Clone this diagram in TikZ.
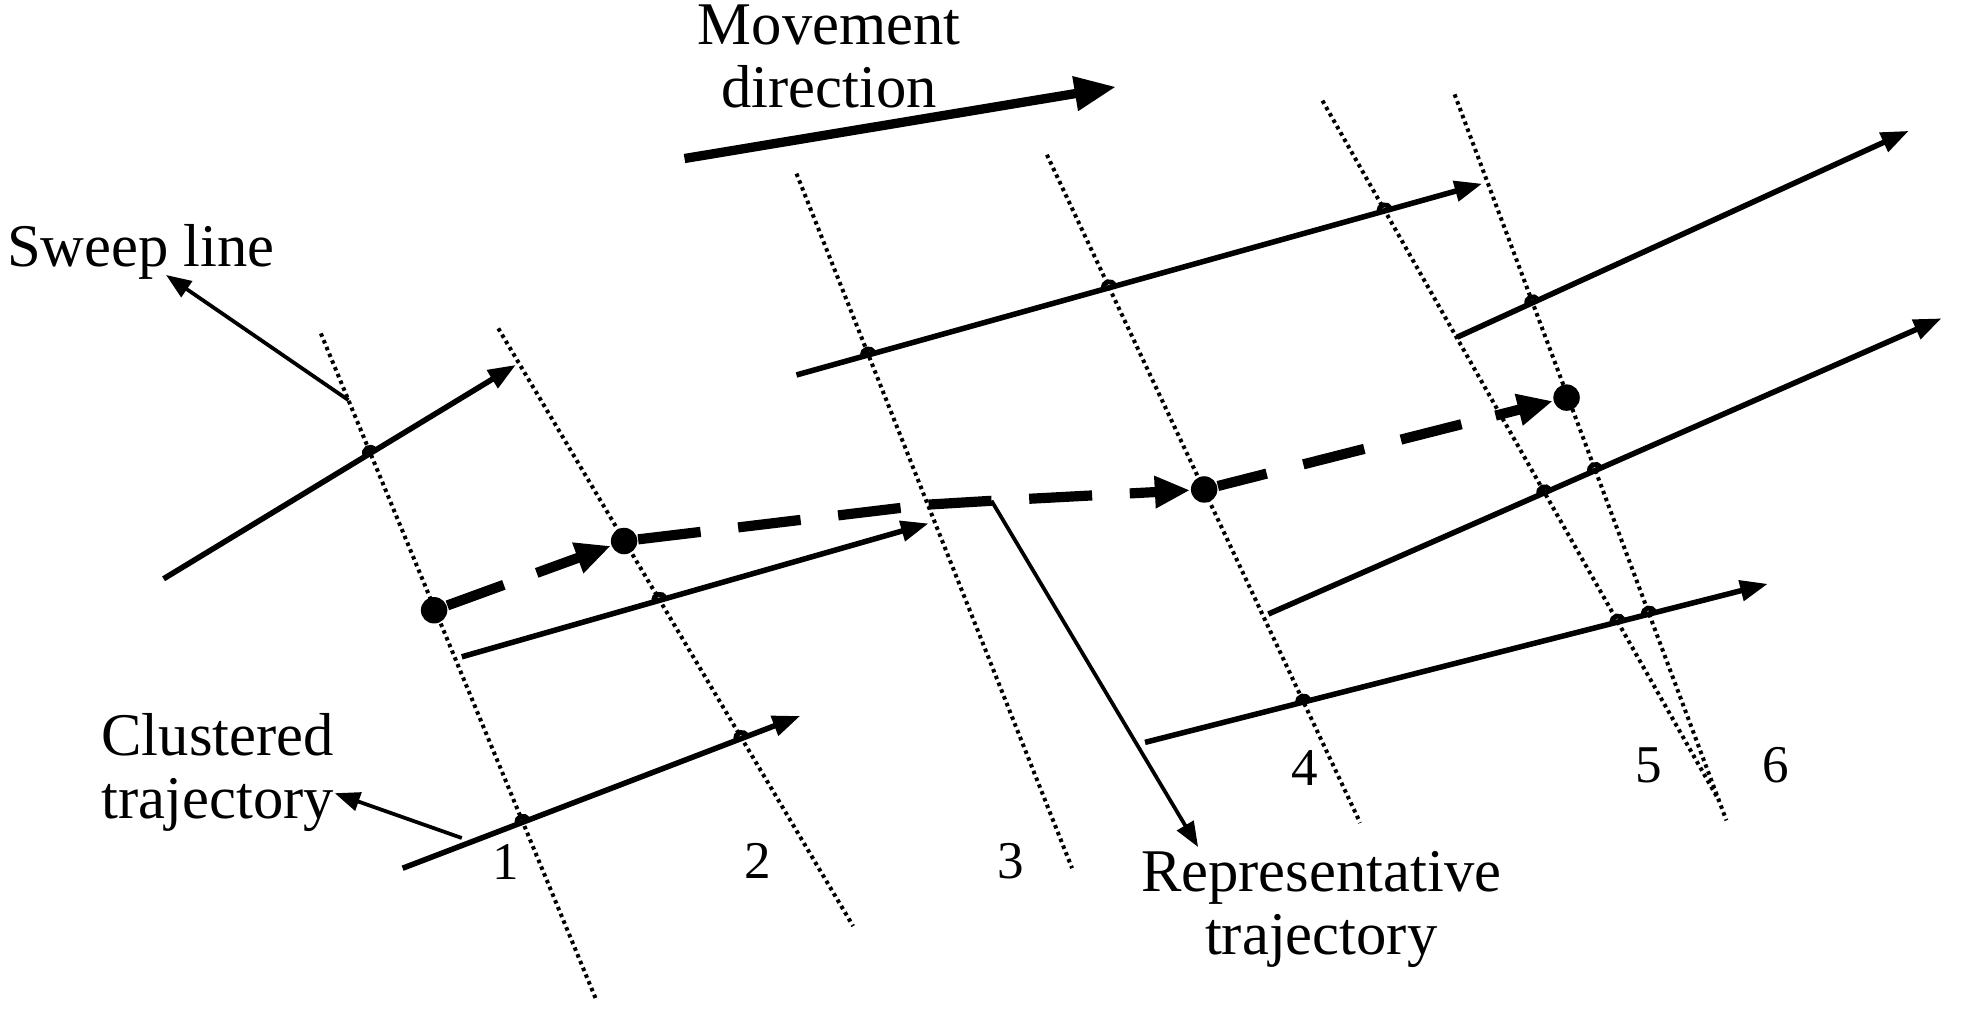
\documentclass[tikz,border=0pt]{standalone}
\usepackage{fontspec}
\setmainfont{Liberation Serif}
\usetikzlibrary{arrows.meta,calc,intersections}
\newcommand\hopat[3]{%
  \coordinate (ha) at ($(#1)!0.045cm!(#2)$);
  \coordinate (hb) at ($(#1)!0.045cm!(#3)$);
  \draw[hopline] (ha) .. controls ($(ha)!0.065cm!90:(hb)$) and ($(hb)!0.065cm!-90:(ha)$) .. (hb);}
\begin{document}
\begin{tikzpicture}[x=0.01cm,y=-0.01cm,
  sweepline/.style={line width=0.9pt, dash pattern=on 0.8pt off 0.85pt},
  trajline/.style={line width=1.25pt, -{Triangle[length=0.22cm,width=0.16cm]}},
  hopline/.style={line width=1.1pt},
  repdash/.style={line width=2.3pt, dash pattern=on 0.5cm off 0.3cm},
  repsolid/.style={line width=2.3pt},
  reparrow/.style={line width=2.3pt, -{Triangle[length=0.28cm,width=0.24cm]}},
  movearrow/.style={line width=2.1pt, -{Triangle[length=0.33cm,width=0.26cm]}},
  labarrow/.style={line width=0.85pt, -{Triangle[length=0.2cm,width=0.15cm]}},
  lbl/.style={font=\fontsize{13.7}{14.2}\selectfont, align=center, inner sep=0pt},
  numlbl/.style={font=\fontsize{12}{14}\selectfont, inner sep=0pt, anchor=base},
  repdot/.style={circle, fill, inner sep=0pt, minimum size=0.21cm}
]
\useasboundingbox (0,0) rectangle (1568,810);

% sweep lines
\coordinate (s1a) at (255,265); \coordinate (s1b) at (474,795);
\coordinate (s2a) at (396,261); \coordinate (s2b) at (678,736);
\coordinate (s3a) at (633,138); \coordinate (s3b) at (852,690);
\coordinate (s4a) at (832,123); \coordinate (s4b) at (1081,654);
\coordinate (s5a) at (1051,80); \coordinate (s5b) at (1366,636);
\coordinate (s6a) at (1156,75); \coordinate (s6b) at (1372,652);
\draw[sweepline, name path=s1] (s1a) -- (s1b);
\draw[sweepline, name path=s2] (s2a) -- (s2b);
\draw[sweepline, name path=s3] (s3a) -- (s3b);
\draw[sweepline, name path=s4] (s4a) -- (s4b);
\draw[sweepline, name path=s5] (s5a) -- (s5b);
\draw[sweepline, name path=s6] (s6a) -- (s6b);

% clustered trajectories
\coordinate (A0) at (130,460);  \coordinate (A1) at (410,290);
\coordinate (B0) at (367,522);  \coordinate (B1) at (738,416);
\coordinate (C0) at (320,690);  \coordinate (C1) at (636,569);
\coordinate (D0) at (633,298);  \coordinate (D1) at (1178,146);
\coordinate (E0) at (1158,268); \coordinate (E1) at (1517,104);
\coordinate (F0) at (1008,488); \coordinate (F1) at (1543,253);
\coordinate (G0) at (910,590);  \coordinate (G1) at (1405,464);
\draw[trajline, name path=tA] (A0) -- (A1);
\draw[trajline, name path=tB] (B0) -- (B1);
\draw[trajline, name path=tC] (C0) -- (C1);
\draw[trajline, name path=tD] (D0) -- (D1);
\draw[trajline, name path=tE] (E0) -- (E1);
\draw[trajline, name path=tF] (F0) -- (F1);
\draw[trajline, name path=tG] (G0) -- (G1);

% hops where trajectories cross sweep lines
\path[name intersections={of=s1 and tA, by={xA1}}];
\path[name intersections={of=s2 and tB, by={xB2}}];
\path[name intersections={of=s1 and tC, by={xC1}}];
\path[name intersections={of=s2 and tC, by={xC2}}];
\path[name intersections={of=s3 and tD, by={xD3}}];
\path[name intersections={of=s4 and tD, by={xD4}}];
\path[name intersections={of=s5 and tD, by={xD5}}];
\path[name intersections={of=s6 and tE, by={xE6}}];
\path[name intersections={of=s5 and tF, by={xF5}}];
\path[name intersections={of=s6 and tF, by={xF6}}];
\path[name intersections={of=s4 and tG, by={xG4}}];
\path[name intersections={of=s5 and tG, by={xG5}}];
\path[name intersections={of=s6 and tG, by={xG6}}];
\hopat{xA1}{A0}{A1}
\hopat{xB2}{B0}{B1}
\hopat{xC1}{C0}{C1}
\hopat{xC2}{C0}{C1}
\hopat{xD3}{D0}{D1}
\hopat{xD4}{D0}{D1}
\hopat{xD5}{D0}{D1}
\hopat{xE6}{E0}{E1}
\hopat{xF5}{F0}{F1}
\hopat{xF6}{F0}{F1}
\hopat{xG4}{G0}{G1}
\hopat{xG5}{G0}{G1}
\hopat{xG6}{G0}{G1}

% representative trajectory
\node[repdot] (P1) at (345,485) {};
\node[repdot] (P2) at (496,430) {};
\coordinate (P3) at (738,401);
\coordinate (Q3) at (788,398);
\node[repdot] (P4) at (957,389) {};
\node[repdot] (P5) at (1245,316) {};
\draw[repsolid] (P1) -- ($(P1)!0.367!(P2)$);
\draw[reparrow] ($(P1)!0.54!(P2)$) -- (P2);
\draw[repdash] (P2) -- (P3);
\draw[repsolid] (P3) -- (Q3);
\draw[repsolid] ($(Q3)!0.177!(P4)$) -- ($(Q3)!0.473!(P4)$);
\draw[reparrow] ($(Q3)!0.65!(P4)$) -- (P4);
\draw[repdash, dash phase=0.1cm] (P4) -- ($(P4)!0.71!(P5)$);
\draw[reparrow] ($(P4)!0.804!(P5)$) -- (P5);

% movement direction
\coordinate (mvtail) at (544,126);
\coordinate (mvtip) at (887,69);
\draw[movearrow] (mvtail) -- (mvtip);
\node[lbl] (movelbl) at (659,45) {Movement\\direction};

% labels
\node[lbl] (sweeplbl) at (112,200) {Sweep line};
\node[lbl] (cluslbl) at (173,614) {Clustered\\trajectory};
\node[lbl] (replbl) at (1050,723) {Representative\\trajectory};

\coordinate (swfoot) at ($(s1a)!0.1!(s1b)$);
\coordinate (swtip) at ($(sweeplbl.south)+(20,-4)$);
\draw[labarrow] (swfoot) -- (swtip);
\coordinate (clusfoot) at (367,666);
\draw[labarrow] (clusfoot) -- (cluslbl.-10);
\coordinate (reptip) at ($(replbl.north west)+(46,-3)$);
\draw[labarrow] (Q3) -- (reptip);

% sweep line numbers
\node[numlbl] (n1) at (402,699) {1};
\node[numlbl] (n2) at (602,698) {2};
\node[numlbl] (n3) at (803,698) {3};
\node[numlbl] (n4) at (1037,624) {4};
\node[numlbl] (n5) at (1310,622) {5};
\node[numlbl] (n6) at (1411,622) {6};
\end{tikzpicture}
\end{document}
